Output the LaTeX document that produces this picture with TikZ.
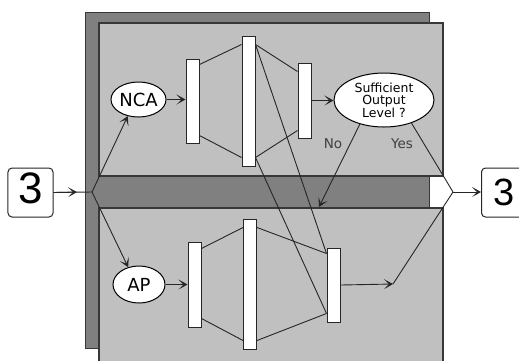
\documentclass[tikz,border=0pt]{standalone}
\usepackage{fontspec}
\setmainfont{Liberation Sans}
\newfontfamily\handfont{DejaVu Sans}
\usetikzlibrary{shapes.geometric,arrows.meta}

\definecolor{darkpanel}{HTML}{808080}
\definecolor{lightpanel}{HTML}{C0C0C0}
\definecolor{rim}{HTML}{383838}

\begin{document}
\begin{tikzpicture}[x=1bp,y=-1bp,
  bar/.style={draw=black!85, fill=white, line width=1bp, inner sep=0pt,
    minimum width=13bp},
  bubble/.style={ellipse, draw=black, fill=white, line width=1bp, inner sep=0pt,
    font=\handfont\fontsize{18bp}{20bp}\selectfont},
  wire/.style={line width=0.9bp, draw=black!85},
  feed/.style={wire, -{Stealth[length=9bp,width=10bp,inset=5bp]}},
  digitbox/.style={draw=black!85, fill=white, rounded corners=4bp, line width=1bp,
    inner sep=0pt, minimum height=49bp},
  tag/.style={font=\handfont\fontsize{13.5bp}{15bp}\selectfont, text=black!75},
]
\useasboundingbox (0,0) rectangle (519,360);

% panels
\draw[fill=darkpanel, draw=rim, line width=1bp] (85,12) rectangle (429,348);
\draw[fill=lightpanel, draw=rim, line width=1.2bp] (99,23) rectangle (443,176);
\draw[fill=lightpanel, draw=rim, line width=1.2bp] (99,208) rectangle (443,366);

% input and output
\node[digitbox, minimum width=45bp, text height=32bp, text depth=11bp,
  font=\fontsize{44bp}{44bp}\selectfont] (inbox) at (30.5,192.5) {3};
\node[digitbox, anchor=west, minimum width=46bp, inner xsep=4.5bp,
  font=\fontsize{38bp}{38bp}\selectfont] (outbox) at (481,192.5) {3};

% selectors
\node[bubble, minimum width=55bp, minimum height=35bp] (nca) at (138.5,99.5) {NCA};
\node[bubble, minimum width=52bp, minimum height=37bp] (ap) at (139,284.5) {AP};
\node[bubble, minimum width=100bp, minimum height=54bp,
  font=\handfont\fontsize{12.5bp}{12.5bp}\selectfont, align=center]
  (suff) at (384,100) {Sufficient\\Output\\Level ?};

% upper network layers
\node[bar, minimum height=84bp] (u1) at (192.5,101) {};
\node[bar, minimum height=130bp] (u2) at (248.5,101) {};
\node[bar, minimum height=75bp] (u3) at (304.5,100.5) {};

% lower network layers
\node[bar, minimum height=85bp] (l1) at (194.5,284.5) {};
\node[bar, minimum height=130bp] (l2) at (250,284) {};
\node[bar, minimum height=74bp] (l3) at (333.5,285) {};

% labels
\node[tag] (no) at (333,144) {No};
\node[tag] (yes) at (402,144) {Yes};

% junction points
\coordinate (intip) at (77,192);
\coordinate (branch) at (92,192);
\coordinate (notip) at (319,207);
\coordinate (join) at (393,284);
\coordinate (outtip) at (453,192);

% attachment points on the layers
\coordinate (u1a) at ([yshift=-6bp]u1.north east);
\coordinate (u1b) at ([yshift=8bp]u1.south east);
\coordinate (u2a) at ([yshift=-9bp]u2.north west);
\coordinate (u2b) at ([yshift=9bp]u2.south west);
\coordinate (u2c) at ([yshift=-9bp]u2.north east);
\coordinate (u2d) at ([yshift=9bp]u2.south east);
\coordinate (u3a) at ([yshift=-9bp]u3.north west);
\coordinate (u3b) at ([yshift=8bp]u3.south west);
\coordinate (l1a) at ([yshift=-7bp]l1.north east);
\coordinate (l1b) at ([yshift=9bp]l1.south east);
\coordinate (l2a) at ([yshift=-9bp]l2.north west);
\coordinate (l2b) at ([yshift=9bp]l2.south west);
\coordinate (l2c) at ([yshift=-9bp]l2.north east);
\coordinate (l2d) at ([yshift=9bp]l2.south east);
\coordinate (l3a) at ([yshift=-6bp]l3.north west);
\coordinate (l3b) at ([yshift=9bp]l3.south west);

% input fan-out
\draw[wire] (inbox.east) -- (branch);
\draw[feed] (inbox.east) -- (intip);
\draw[feed] (branch) -- (nca.237);
\draw[feed] (branch) -- (ap.122);

% selector to first layer
\draw[feed] (nca.east) -- (nca.east -| u1.west);
\draw[feed] (ap.east) -- (ap.east -| l1.west);

% upper connections
\draw[wire] (u1a) -- (u2a);
\draw[wire] (u1b) -- (u2b);
\draw[wire] (u2c) -- (u3a);
\draw[wire] (u2d) -- (u3b);
\draw[feed] (u3.east) -- (u3.east -| suff.west);

% lower connections
\draw[wire] (l1a) -- (l2a);
\draw[wire] (l1b) -- (l2b);
\draw[wire] (l2c) -- (l3a);
\draw[wire] (l2d) -- (l3b);

% cross connections from upper to lower
\draw[wire] (u2c) -- (l3a);
\draw[wire] (u2d) -- (l3b);

% decision branches
\draw[feed] (suff.225) -- (notip);
\draw[wire] (suff.320) -- (outtip);
\draw[feed] (l3.east) -- (join);
\draw[wire] (join) -- (outtip);
\draw[feed] (outtip) -- (outtip -| outbox.west);
\end{tikzpicture}
\end{document}
